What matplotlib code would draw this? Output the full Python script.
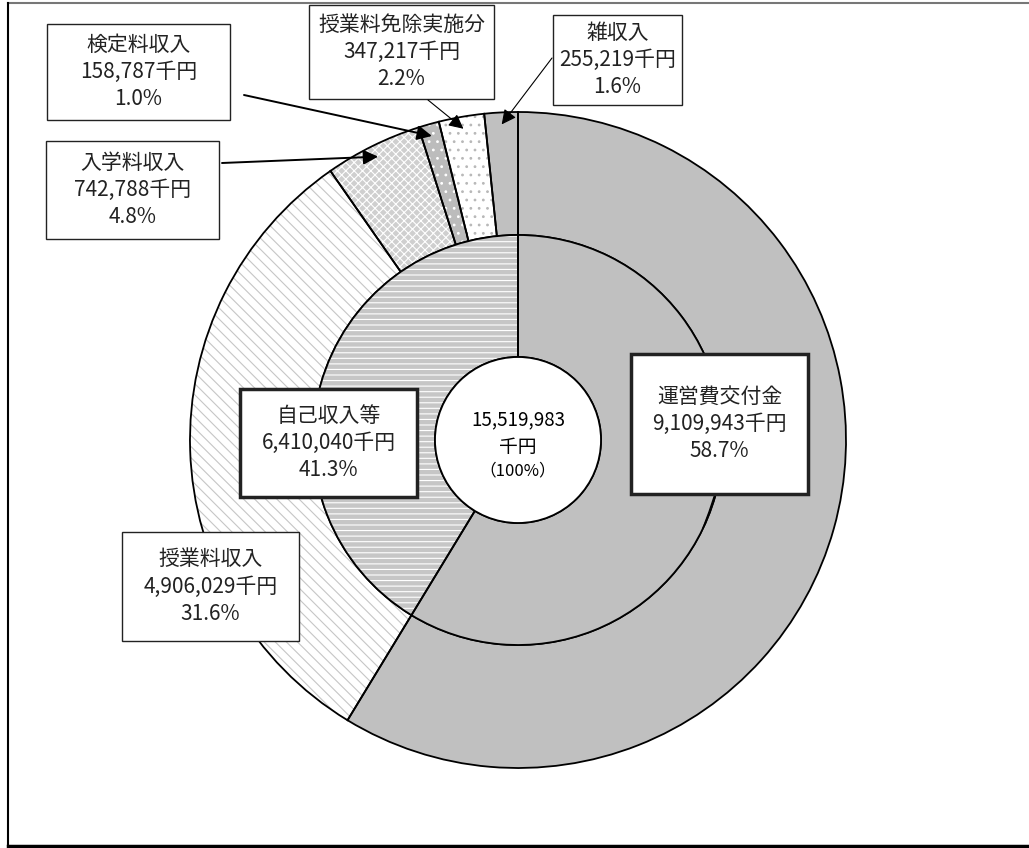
import numpy as np
import matplotlib
matplotlib.use("Agg")
import matplotlib.pyplot as plt
from matplotlib.patches import Rectangle, Circle

plt.rcParams['font.family'] = ['Noto Sans CJK JP', 'DejaVu Sans']
plt.rcParams['hatch.linewidth'] = 0.8

# ---- data ----
outer_labels = ['運営費交付金', '授業料収入', '入学料収入', '検定料収入', '授業料免除実施分', '雑収入']
outer_values = [9109943, 4906029, 742788, 158787, 347217, 255219]
inner_labels = ['運営費交付金', '自己収入等']
inner_values = [9109943, 6410040]
total_value = 15519983

# ---- styles ----
outer_face = ['#c0c0c0', 'white', '#cfcfcf', '#bcbcbc', 'white', '#c0c0c0']
outer_hatch = [None, '\\\\\\', 'xxxx', '..', '..', None]
outer_hcol = ['#c0c0c0', '#c6c6c6', 'white', 'white', '#b8b8b8', '#c0c0c0']
inner_face = ['#c0c0c0', '#c6c6c6']
inner_hatch = [None, '---']
inner_hcol = ['#c0c0c0', 'white']

W, H = 1029, 848
fig = plt.figure(figsize=(W / 100, H / 100), dpi=100)
ax = fig.add_axes([0, 0, 1, 1])

cx, cy = 518, 440
R_out, R_mid, R_in = 328, 205, 83

def ring(values, radius, width, faces, hatches, hcols):
    wedges, _ = ax.pie(values, radius=radius, center=(cx, cy), startangle=-90,
                       counterclock=True, wedgeprops=dict(width=width, linewidth=0))
    for w, f, h, hc in zip(wedges, faces, hatches, hcols):
        w.set_facecolor(f)
        w.set_edgecolor(hc)
        if h:
            w.set_hatch(h)
    ax.pie(values, radius=radius, center=(cx, cy), startangle=-90,
           counterclock=True,
           wedgeprops=dict(width=width, linewidth=1.3, edgecolor='black', fill=False))
    return wedges

ring(outer_values, R_out, R_out - R_mid, outer_face, outer_hatch, outer_hcol)
ring(inner_values, R_mid, R_mid - R_in, inner_face, inner_hatch, inner_hcol)
ax.add_patch(Circle((cx, cy), R_in, facecolor='white', edgecolor='black', lw=1.3, zorder=3))

ax.set_xlim(0, W)
ax.set_ylim(H, 0)
ax.set_aspect('equal')
ax.axis('off')

def label_text(name, v):
    return f"{name}\n{v:,}千円\n{v / total_value * 100:.1f}%"

# boxes: (x0, y0, x1, y1, linewidth)
outer_boxes = {
    1: (122, 532, 299, 641, 1.0),
    2: (46, 141, 219, 239, 1.0),
    3: (47, 24, 230, 120, 1.0),
    4: (309, 5, 494, 99, 1.0),
    5: (553, 15, 682, 105, 1.0),
}
inner_boxes = {
    0: (631, 354, 808, 494, 2.5),
    1: (240, 389, 417, 497, 2.5),
}

def draw_box(b, txt):
    x0, y0, x1, y1, lw = b
    ax.add_patch(Rectangle((x0, y0), x1 - x0, y1 - y0, facecolor='white',
                           edgecolor='#222222', lw=lw, zorder=5))
    ax.text((x0 + x1) / 2, (y0 + y1) / 2, txt, ha='center', va='center',
            fontsize=15, linespacing=1.3, color='#222222', zorder=6)

for i, b in outer_boxes.items():
    draw_box(b, label_text(outer_labels[i], outer_values[i]))
for i, b in inner_boxes.items():
    draw_box(b, label_text(inner_labels[i], inner_values[i]))

# leader arrows to small outer wedges
cum = np.cumsum([0] + outer_values[:-1])
starts = {2: (222, 163, 1.4), 3: (244, 95, 1.4), 4: (428, 100, 0.8), 5: (552, 58, 0.8)}
for i, (sx, sy, lw) in starts.items():
    mid = (cum[i] + outer_values[i] / 2) / total_value * 2 * np.pi
    tx = cx + 316 * np.sin(mid)
    ty = cy - 316 * np.cos(mid)
    ax.annotate('', xy=(tx, ty), xytext=(sx, sy),
                arrowprops=dict(arrowstyle='-|>', mutation_scale=22, lw=lw,
                                color='black', shrinkA=0, shrinkB=0), zorder=7)

# short leader under 運営費交付金 box
ax.plot([715, 709, 703], [494, 512, 528], color='black', lw=1.0, zorder=4)

# center text
ax.text(cx, 420, f"{total_value:,}", ha='center', va='center', fontsize=13.5, zorder=6)
ax.text(cx, 448, "千円", ha='center', va='center', fontsize=13.5, zorder=6)
ax.text(cx, 471, "（100%）", ha='center', va='center', fontsize=12, zorder=6)

# frame
ax.plot([8, W], [3, 3], color='#777777', lw=1.5, zorder=8)
ax.plot([8, 8], [3, 845], color='black', lw=1.5, zorder=8)
ax.plot([8, W], [845.5, 845.5], color='black', lw=2.5, zorder=8)

fig.savefig('out.png', dpi=100)
